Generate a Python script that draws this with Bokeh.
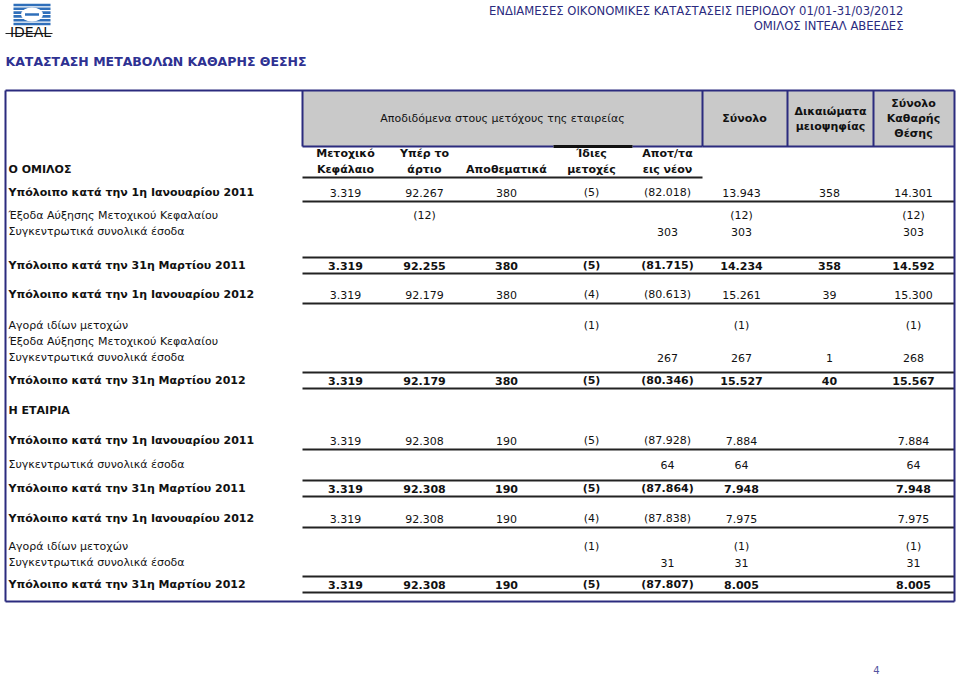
from bokeh.plotting import figure
from bokeh.models import Range1d
from bokeh.embed import file_html
from bokeh.resources import INLINE
from bokeh.core.properties import value

# ---------------- data ----------------
report_title = "ΚΑΤΑΣΤΑΣΗ ΜΕΤΑΒΟΛΩΝ ΚΑΘΑΡΗΣ ΘΕΣΗΣ"
header_line1 = "ΕΝΔΙΑΜΕΣΕΣ ΟΙΚΟΝΟΜΙΚΕΣ ΚΑΤΑΣΤΑΣΕΙΣ ΠΕΡΙΟΔΟΥ 01/01-31/03/2012"
header_line2 = "ΟΜΙΛΟΣ ΙΝΤΕΑΛ ΑΒΕΕΔΕΣ"
logo_text = "IDEAL"
page_number = "4"
group_header = "Αποδιδόμενα στους μετόχους της εταιρείας"
first_section = "Ο ΟΜΙΛΟΣ"
column_headers = [["Μετοχικό", "Κεφάλαιο"], ["Υπέρ το", "άρτιο"], ["Αποθεματικά"],
                  ["Ίδιες", "μετοχές"], ["Αποτ/τα", "εις νέον"]]
boxed_headers = [["Σύνολο"], ["Δικαιώματα", "μειοψηφίας"], ["Σύνολο", "Καθαρής", "Θέσης"]]

row_labels = [
    "Υπόλοιπο κατά την 1η Ιανουαρίου 2011",
    "Έξοδα Αύξησης Μετοχικού Κεφαλαίου",
    "Συγκεντρωτικά συνολικά έσοδα",
    "Υπόλοιπο κατά την 31η Μαρτίου 2011",
    "Υπόλοιπο κατά την 1η Ιανουαρίου 2012",
    "Αγορά ιδίων μετοχών",
    "Έξοδα Αύξησης Μετοχικού Κεφαλαίου",
    "Συγκεντρωτικά συνολικά έσοδα",
    "Υπόλοιπο κατά την 31η Μαρτίου 2012",
    "Η ΕΤΑΙΡΙΑ",
    "Υπόλοιπο κατά την 1η Ιανουαρίου 2011",
    "Συγκεντρωτικά συνολικά έσοδα",
    "Υπόλοιπο κατά την 31η Μαρτίου 2011",
    "Υπόλοιπο κατά την 1η Ιανουαρίου 2012",
    "Αγορά ιδίων μετοχών",
    "Συγκεντρωτικά συνολικά έσοδα",
    "Υπόλοιπο κατά την 31η Μαρτίου 2012",
]
row_kind = ["open", "item", "item", "close", "open", "item", "item", "item", "close",
            "section", "open", "item", "close", "open", "item", "item", "close"]

N = None
share_capital = [3319, N, N, 3319, 3319, N, N, N, 3319, N, 3319, N, 3319, 3319, N, N, 3319]
share_premium = [92267, -12, N, 92255, 92179, N, N, N, 92179, N, 92308, N, 92308, 92308, N, N, 92308]
reserves      = [380, N, N, 380, 380, N, N, N, 380, N, 190, N, 190, 190, N, N, 190]
treasury      = [-5, N, N, -5, -4, -1, N, N, -5, N, -5, N, -5, -4, -1, N, -5]
retained      = [-82018, N, 303, -81715, -80613, N, N, 267, -80346, N, -87928, 64, -87864, -87838, N, 31, -87807]
total         = [13943, -12, 303, 14234, 15261, -1, N, 267, 15527, N, 7884, 64, 7948, 7975, -1, 31, 8005]
minority      = [358, N, N, 358, 39, N, N, 1, 40, N, N, N, N, N, N, N, N]
total_equity  = [14301, -12, 303, 14592, 15300, -1, N, 268, 15567, N, 7884, 64, 7948, 7975, -1, 31, 8005]

# ---------------- layout ----------------
row_y = [192, 215, 231, 265, 294, 325, 341, 357, 380, 410, 440, 464, 488, 518, 546, 562, 584]
col_x = [345, 424, 506, 591, 667, 741, 829, 913]
FONT = value("DejaVu Sans")
NAVY = "#2b2b7e"
TXT = "#111111"
W, H = 958, 676


def fmt(v):
    s = f"{abs(v):,}".replace(",", ".")
    return f"({s})" if v < 0 else s


p = figure(width=W, height=H, x_range=Range1d(0, W), y_range=Range1d(H, 0),
           output_backend="svg", toolbar_location=None, min_border=0,
           x_axis_location=None, y_axis_location=None)
p.grid.visible = False
p.outline_line_color = None
p.background_fill_color = "white"
p.border_fill_color = "white"

# ---- logo ----
stripe_y = [4.5, 8.3, 12.1, 15.9, 19.7, 23.5]
p.rect(x=[31.5] * len(stripe_y), y=stripe_y, width=37, height=2.6,
       fill_color="#2f6fba", line_color=None)
p.ellipse(x=[31.5], y=[14], width=22, height=14, fill_color="white", line_color=None)
p.rect(x=[31.5], y=[14], width=14, height=2.6, fill_color="#2f6fba", line_color=None)
p.segment(x0=[5], y0=[33], x1=[52], y1=[33], line_color="#222222", line_width=1)
p.text(x=[30], y=[31.5], text=[logo_text], text_align="center", text_baseline="middle",
       text_font=FONT, text_font_size="14px", text_color="#111111")

# ---- page headings ----
p.text(x=[5], y=[61], text=[report_title], text_align="left", text_baseline="middle",
       text_font=FONT, text_font_size="12.5px", text_font_style="bold", text_color="#2e3192")
p.text(x=[903, 903], y=[10, 25], text=[header_line1, header_line2], text_align="right",
       text_baseline="middle", text_font=FONT, text_font_size="11.6px", text_color=NAVY)
p.text(x=[876], y=[669], text=[page_number], text_align="center", text_baseline="middle",
       text_font=FONT, text_font_size="10px", text_color="#5555a0")

# ---- header boxes ----
p.quad(left=[302], right=[954], top=[90], bottom=[146], fill_color="#c9c9c9", line_color=None)
vx = [302, 702, 787, 873]
p.segment(x0=vx, y0=[90] * 4, x1=vx, y1=[146] * 4, line_color=NAVY, line_width=2)
p.segment(x0=[302, 632, 702], y0=[146] * 3, x1=[553, 702, 954], y1=[146] * 3,
          line_color=NAVY, line_width=2)
p.segment(x0=[553], y0=[146], x1=[632], y1=[146], line_color="#111111", line_width=3)

p.text(x=[502], y=[118], text=[group_header], text_align="center", text_baseline="middle",
       text_font=FONT, text_font_size="11px", text_color=TXT)

hx, hy, ht = [], [], []
boxed_cx = [744, 830, 913]
for cx, lines in zip(boxed_cx, boxed_headers):
    n = len(lines)
    for i, t in enumerate(lines):
        hx.append(cx)
        hy.append(118 + (i - (n - 1) / 2) * 15)
        ht.append(t)
for cx, lines in zip(col_x[:5], column_headers):
    n = len(lines)
    for i, t in enumerate(lines):
        hx.append(cx)
        hy.append(169 - (n - 1 - i) * 16)
        ht.append(t)
p.text(x=hx, y=hy, text=ht, text_align="center", text_baseline="middle",
       text_font=FONT, text_font_size="11px", text_font_style="bold", text_color=TXT)
p.text(x=[8], y=[169], text=[first_section], text_align="left", text_baseline="middle",
       text_font=FONT, text_font_size="11px", text_font_style="bold", text_color=TXT)
p.segment(x0=[302], y0=[177], x1=[702], y1=[177], line_color="#222222", line_width=2)

# ---- body ----
columns = [share_capital, share_premium, reserves, treasury, retained, total, minority, total_equity]
lab = {"bold": dict(x=[], y=[], t=[]), "normal": dict(x=[], y=[], t=[])}
num = {"bold": dict(x=[], y=[], t=[]), "normal": dict(x=[], y=[], t=[])}
lx0, ly0, lx1, ly1 = [], [], [], []
for r, (label, kind, y) in enumerate(zip(row_labels, row_kind, row_y)):
    lstyle = "bold" if kind in ("open", "close", "section") else "normal"
    lab[lstyle]["x"].append(8); lab[lstyle]["y"].append(y); lab[lstyle]["t"].append(label)
    nstyle = "bold" if kind == "close" else "normal"
    for cx, col in zip(col_x, columns):
        v = col[r]
        if v is not None:
            num[nstyle]["x"].append(cx); num[nstyle]["y"].append(y); num[nstyle]["t"].append(fmt(v))
    if kind == "open":
        lx0.append(302); lx1.append(954); ly0.append(y + 9); ly1.append(y + 9)
    elif kind == "close":
        for dy in (-8, 8):
            lx0.append(302); lx1.append(954); ly0.append(y + dy); ly1.append(y + dy)

for style in ("bold", "normal"):
    d = lab[style]
    p.text(x=d["x"], y=d["y"], text=d["t"], text_align="left", text_baseline="middle",
           text_font=FONT, text_font_size="11px", text_font_style=style, text_color=TXT)
    d = num[style]
    p.text(x=d["x"], y=d["y"], text=d["t"], text_align="center", text_baseline="middle",
           text_font=FONT, text_font_size="11px", text_font_style=style, text_color=TXT)
p.segment(x0=lx0, y0=ly0, x1=lx1, y1=ly1, line_color="#222222", line_width=2)

# ---- outer frame ----
p.segment(x0=[5, 5, 5, 954], y0=[90, 601, 90, 90], x1=[954, 954, 5, 954], y1=[90, 601, 601, 601],
          line_color=NAVY, line_width=2)

open("out.html", "w").write(file_html(p, INLINE))
